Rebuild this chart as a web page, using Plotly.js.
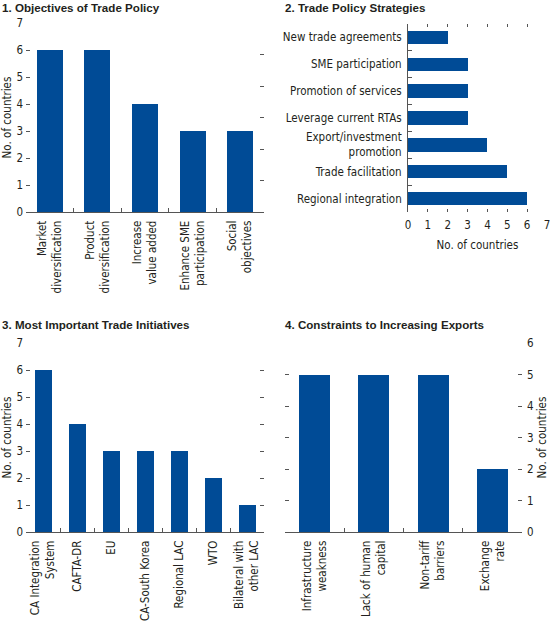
<!DOCTYPE html>
<html>
<head>
<meta charset="utf-8">
<script src="https://cdn.plot.ly/plotly-3.0.1.min.js"></script>
<style>html,body{margin:0;padding:0;background:#fff;}#chart{width:550px;height:622px;}</style>
</head>
<body>
<div id="chart"></div>
<script>
// ---- data ----
const objCats = ['Market<br>diversification','Product<br>diversification','Increase<br>value added','Enhance SME<br>participation','Social<br>objectives'];
const objVals = [6,6,4,3,3];

const stratCats = ['Regional integration','Trade facilitation','Export/investment<br>promotion','Leverage current RTAs','Promotion of services','SME participation','New trade agreements'];
const stratVals = [6,5,4,3,3,3,2];

const initCats = ['CA Integration<br>System','CAFTA-DR','EU','CA-South Korea','Regional LAC','WTO','Bilateral with<br>other LAC'];
const initVals = [6,4,3,3,3,2,1];

const consCats = ['Infrastructure<br>weakness','Lack of human<br>capital','Non-tariff<br>barriers','Exchange<br>rate'];
const consVals = [5,5,5,2];

const panelTitles = ['1. Objectives of Trade Policy','2. Trade Policy Strategies','3. Most Important Trade Initiatives','4. Constraints to Increasing Exports'];
const axisTitle = 'No. of countries';

// ---- style ----
const BAR = '#004b96';
const TXT = '#231f20';
const LINE = '#555555';
const FONT = '"DejaVu Sans Condensed", "Liberation Sans Narrow", sans-serif';
const TFONT = '"Liberation Sans", Arial, sans-serif';
const W = 550, H = 622;
const fx = p => p / W;
const fy = p => 1 - p / H;
const FS = 11.5;

const bar = (x, y, xa, ya, w, orient) => ({
  type: 'bar', x: x, y: y, xaxis: xa, yaxis: ya, orientation: orient || 'v',
  width: w, marker: {color: BAR, line: {width: 0}}, showlegend: false, hoverinfo: 'skip'
});

const data = [
  bar(objCats, objVals, 'x', 'y', 0.55),
  {type: 'scatter', x: [], y: [], xaxis: 'x', yaxis: 'y5', showlegend: false, hoverinfo: 'skip'},
  bar(stratVals, stratCats, 'x2', 'y2', 0.5, 'h'),
  bar(initCats, initVals, 'x3', 'y3', 0.5),
  bar(consCats, consVals, 'x4', 'y4', 0.52)
];

const tf = {family: FONT, size: FS, color: TXT};
const catX = (dom, anchor) => ({
  domain: dom, anchor: anchor, type: 'category', showline: true, linecolor: LINE, linewidth: 1,
  ticks: 'inside', tickson: 'boundaries', ticklen: 4, tickcolor: LINE, tickangle: -90,
  showgrid: false, zeroline: false, tickfont: tf, ticklabelstandoff: 3, fixedrange: true
});
const valY = (dom, anchor, maxv, extra) => Object.assign({
  domain: dom, anchor: anchor, range: [0, maxv], dtick: 1, ticks: 'inside', ticklen: 4,
  tickcolor: LINE, showline: false, showgrid: false, zeroline: false, tickfont: tf,
  ticklabelstandoff: 2, ticklabeloverflow: 'allow', fixedrange: true
}, extra || {});

const layout = {
  width: W, height: H,
  margin: {l: 0, r: 0, t: 0, b: 0},
  paper_bgcolor: '#fff', plot_bgcolor: 'rgba(0,0,0,0)',
  font: {family: FONT, size: FS, color: TXT},
  bargap: 0,
  xaxis: Object.assign(catX([fx(26), fx(264)], 'y'), {range: [-0.5, 4.5]}),
  yaxis: valY([fy(212), fy(23)], 'x', 7, {title: {text: axisTitle, font: tf, standoff: 5}}),
  yaxis5: {overlaying: 'y', side: 'right', anchor: 'x', range: [0, 6], dtick: 1, ticks: 'inside', ticklen: 4,
           tickcolor: LINE, showticklabels: false, showline: false, showgrid: false, zeroline: false, fixedrange: true},
  xaxis2: {domain: [fx(408), fx(547)], anchor: 'y2', range: [0, 7], dtick: 1, ticks: 'inside', ticklen: 3,
           tickcolor: LINE, mirror: 'ticks', showline: false, showgrid: false, zeroline: false, tickfont: tf,
           ticklabelstandoff: 4, ticklabeloverflow: 'allow',
           title: {text: axisTitle, font: tf, standoff: 10}, fixedrange: true},
  yaxis2: {domain: [fy(212), fy(24)], anchor: 'x2', type: 'category', range: [-0.5, 6.5], showline: true,
           linecolor: LINE, linewidth: 1, ticks: 'inside', tickson: 'boundaries', ticklen: 4, tickcolor: LINE,
           showgrid: false, zeroline: false, tickfont: tf, ticklabelstandoff: 3, fixedrange: true},
  xaxis3: Object.assign(catX([fx(26), fx(264)], 'y3'), {range: [-0.5, 6.5]}),
  yaxis3: valY([fy(532), fy(343)], 'x3', 7, {mirror: 'ticks', title: {text: axisTitle, font: tf, standoff: 5}}),
  xaxis4: Object.assign(catX([fx(285), fx(522)], 'y4'), {range: [-0.5, 3.5]}),
  yaxis4: valY([fy(532), fy(343)], 'x4', 6, {side: 'right', mirror: 'ticks', ticklabelstandoff: 4,
           title: {text: axisTitle, font: tf, standoff: 5}}),
  annotations: [
    {text: panelTitles[0], x: fx(0), y: fy(-1), xanchor: 'left', yanchor: 'top'},
    {text: panelTitles[1], x: fx(283), y: fy(-1), xanchor: 'left', yanchor: 'top'},
    {text: panelTitles[2], x: fx(0), y: fy(316), xanchor: 'left', yanchor: 'top'},
    {text: panelTitles[3], x: fx(283), y: fy(316), xanchor: 'left', yanchor: 'top'}
  ].map(a => Object.assign(a, {xref: 'paper', yref: 'paper', showarrow: false,
      font: {family: TFONT, size: 11.6, color: TXT, weight: 'bold'}}))
};

Plotly.newPlot('chart', data, layout, {staticPlot: true, displayModeBar: false});
</script>
</body>
</html>
